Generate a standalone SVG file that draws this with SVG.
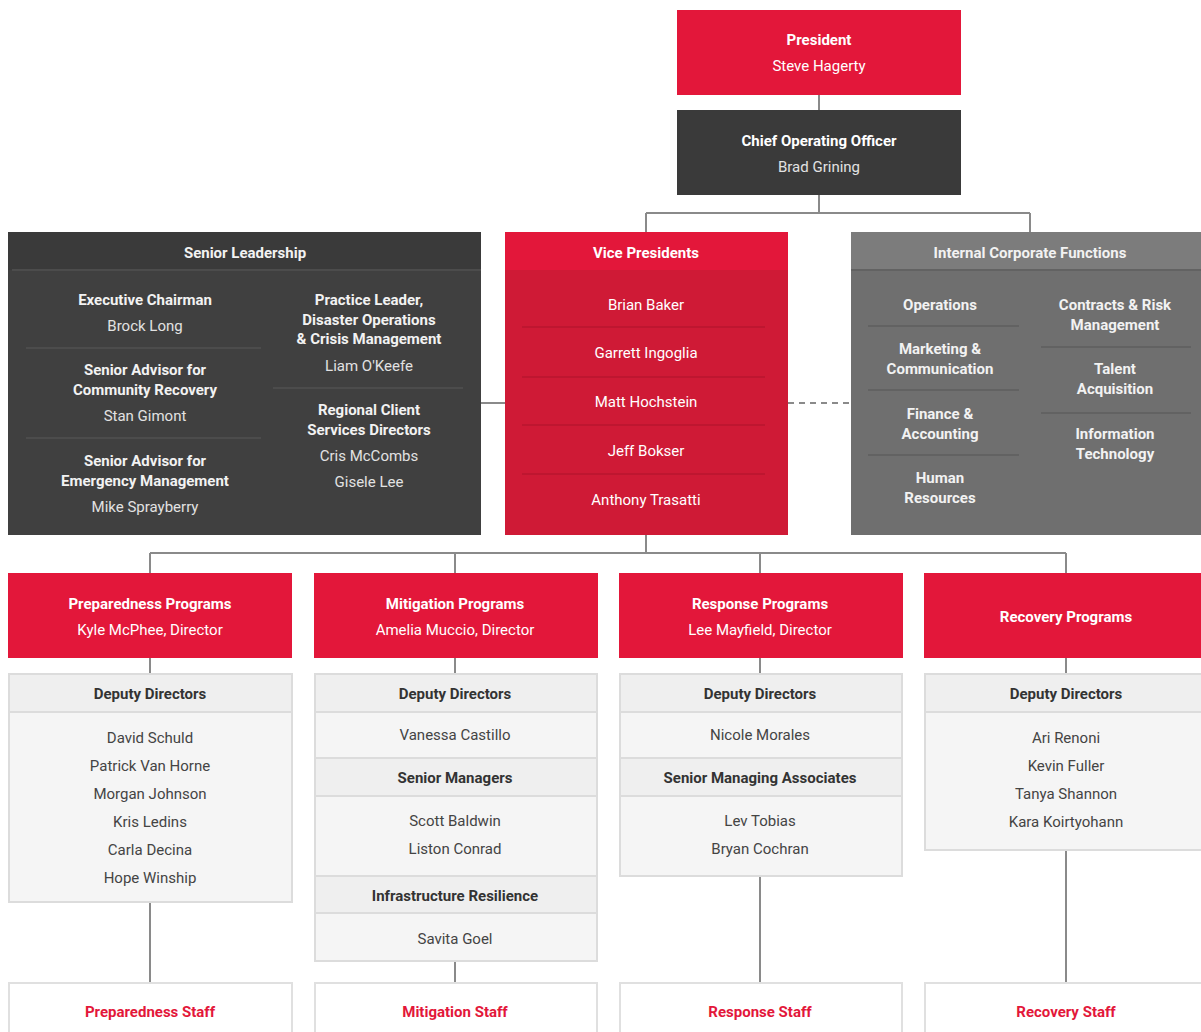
<svg xmlns="http://www.w3.org/2000/svg" width="1201" height="1032" viewBox="0 0 1201 1032">
<style>
text{font-family:Roboto,"Liberation Sans",sans-serif;font-size:15px;text-anchor:middle}
.b{font-weight:bold}
.w{fill:#ffffff}
.lw{fill:#f2f2f2}
.lg{fill:#e2e2e2}
.dk{fill:#333333}
.dn{fill:#444444}
.rt{fill:#e3173a;font-weight:bold}
.red{fill:#e3173a}
.vpb{fill:#cf1a36}
.dark{fill:#3a3a3a}
.slb{fill:#404040}
.icf{fill:#6f6f6f}
.icfh{fill:#7c7c7c}
.dep{fill:#f5f5f5;stroke:#dcdcdc;stroke-width:2}
.deph{fill:#efefef;stroke:#dcdcdc;stroke-width:2}
.staff{fill:#ffffff;stroke:#e0e0e0;stroke-width:2}
.conn{fill:none;stroke:#8a8a8a;stroke-width:2}
.dash{fill:none;stroke:#8a8a8a;stroke-width:2;stroke-dasharray:6 5}
.dvs{stroke:#4c4c4c;stroke-width:2}
.dvv{stroke:#b9162f;stroke-width:1.5}
.dvi{stroke:#626262;stroke-width:2}
</style>
<g id="connectors">
<path class="conn" d="M819 95V110"/>
<path class="conn" d="M819 195V213M646 213H1030M646 213V232M1030 213V232"/>
<path class="conn" d="M481 403H505"/>
<path class="dash" d="M788 403H851"/>
<path class="conn" d="M646 535V553M150 553H1066M150 553V573M455 553V573M760 553V573M1066 553V573"/>
<path class="conn" d="M150 658V674M455 658V674M760 658V674M1066 658V674"/>
<path class="conn" d="M150 902V983M455 961V983M760 876V983M1066 850V983"/>
</g>
<g id="president">
<rect class="red" x="677" y="10" width="284" height="85"/>
<text class="w b" x="819" y="45">President</text>
<text class="w" x="819" y="71">Steve Hagerty</text>
</g>
<g id="coo">
<rect class="dark" x="677" y="110" width="284" height="85"/>
<text class="w b" x="819" y="146">Chief Operating Officer</text>
<text class="lg" x="819" y="172">Brad Grining</text>
</g>
<g id="senior-leadership">
<rect class="slb" x="8" y="232" width="473" height="303"/>
<rect class="dark" x="8" y="232" width="473" height="38"/>
<line class="dvs" x1="12" y1="270" x2="481" y2="270"/>
<text class="lw b" x="245" y="258">Senior Leadership</text>
<text class="lw b" x="145" y="305">Executive Chairman</text>
<text class="lg" x="145" y="331">Brock Long</text>
<line class="dvs" x1="26" y1="348" x2="261" y2="348"/>
<text class="lw b" x="145" y="375">Senior Advisor for</text>
<text class="lw b" x="145" y="395">Community Recovery</text>
<text class="lg" x="145" y="421">Stan Gimont</text>
<line class="dvs" x1="26" y1="438" x2="261" y2="438"/>
<text class="lw b" x="145" y="466">Senior Advisor for</text>
<text class="lw b" x="145" y="486">Emergency Management</text>
<text class="lg" x="145" y="512">Mike Sprayberry</text>
<text class="lw b" x="369" y="305">Practice Leader,</text>
<text class="lw b" x="369" y="325">Disaster Operations</text>
<text class="lw b" x="369" y="344">&amp; Crisis Management</text>
<text class="lg" x="369" y="371">Liam O'Keefe</text>
<line class="dvs" x1="273" y1="388" x2="463" y2="388"/>
<text class="lw b" x="369" y="415">Regional Client</text>
<text class="lw b" x="369" y="435">Services Directors</text>
<text class="lg" x="369" y="461">Cris McCombs</text>
<text class="lg" x="369" y="487">Gisele Lee</text>
</g>
<g id="vice-presidents">
<rect class="vpb" x="505" y="232" width="283" height="303"/>
<rect class="red" x="505" y="232" width="283" height="38"/>
<text class="w b" x="646" y="258">Vice Presidents</text>
<text class="w" x="646" y="310">Brian Baker</text>
<line class="dvv" x1="522" y1="327" x2="765" y2="327"/>
<text class="w" x="646" y="358">Garrett Ingoglia</text>
<line class="dvv" x1="522" y1="377" x2="765" y2="377"/>
<text class="w" x="646" y="407">Matt Hochstein</text>
<line class="dvv" x1="522" y1="425" x2="765" y2="425"/>
<text class="w" x="646" y="456">Jeff Bokser</text>
<line class="dvv" x1="522" y1="474" x2="765" y2="474"/>
<text class="w" x="646" y="505">Anthony Trasatti</text>
</g>
<g id="internal-corporate-functions">
<rect class="icf" x="851" y="232" width="352" height="303"/>
<rect class="icfh" x="851" y="232" width="352" height="38"/>
<line class="dvi" x1="851" y1="270" x2="1201" y2="270"/>
<text class="lw b" x="1030" y="258">Internal Corporate Functions</text>
<text class="lw b" x="940" y="310">Operations</text>
<line class="dvi" x1="868" y1="326" x2="1019" y2="326"/>
<text class="lw b" x="940" y="354">Marketing &amp;</text>
<text class="lw b" x="940" y="374">Communication</text>
<line class="dvi" x1="868" y1="390" x2="1019" y2="390"/>
<text class="lw b" x="940" y="419">Finance &amp;</text>
<text class="lw b" x="940" y="439">Accounting</text>
<line class="dvi" x1="868" y1="455" x2="1019" y2="455"/>
<text class="lw b" x="940" y="483">Human</text>
<text class="lw b" x="940" y="503">Resources</text>
<text class="lw b" x="1115" y="310">Contracts &amp; Risk</text>
<text class="lw b" x="1115" y="330">Management</text>
<line class="dvi" x1="1041" y1="347" x2="1191" y2="347"/>
<text class="lw b" x="1115" y="374">Talent</text>
<text class="lw b" x="1115" y="394">Acquisition</text>
<line class="dvi" x1="1041" y1="413" x2="1191" y2="413"/>
<text class="lw b" x="1115" y="439">Information</text>
<text class="lw b" x="1115" y="459">Technology</text>
</g>
<g id="preparedness-programs">
<rect class="red" x="8" y="573" width="284" height="85"/>
<text class="w b" x="150" y="609">Preparedness Programs</text>
<text class="w" x="150" y="635">Kyle McPhee, Director</text>
</g>
<g id="mitigation-programs">
<rect class="red" x="314" y="573" width="284" height="85"/>
<text class="w b" x="455" y="609">Mitigation Programs</text>
<text class="w" x="455" y="635">Amelia Muccio, Director</text>
</g>
<g id="response-programs">
<rect class="red" x="619" y="573" width="284" height="85"/>
<text class="w b" x="760" y="609">Response Programs</text>
<text class="w" x="760" y="635">Lee Mayfield, Director</text>
</g>
<g id="recovery-programs">
<rect class="red" x="924" y="573" width="280" height="85"/>
<text class="w b" x="1066" y="622">Recovery Programs</text>
</g>
<g id="preparedness-deputies">
<rect class="dep" x="9" y="674" width="283" height="228"/>
<rect class="deph" x="9" y="674" width="283" height="38"/>
<text class="dk b" x="150" y="699">Deputy Directors</text>
<text class="dn" x="150" y="743">David Schuld</text>
<text class="dn" x="150" y="771">Patrick Van Horne</text>
<text class="dn" x="150" y="799">Morgan Johnson</text>
<text class="dn" x="150" y="827">Kris Ledins</text>
<text class="dn" x="150" y="855">Carla Decina</text>
<text class="dn" x="150" y="883">Hope Winship</text>
</g>
<g id="mitigation-deputies">
<rect class="dep" x="315" y="674" width="282" height="287"/>
<rect class="deph" x="315" y="674" width="282" height="38"/>
<text class="dk b" x="455" y="699">Deputy Directors</text>
<text class="dn" x="455" y="740">Vanessa Castillo</text>
<rect class="deph" x="315" y="758" width="282" height="38"/>
<text class="dk b" x="455" y="783">Senior Managers</text>
<text class="dn" x="455" y="826">Scott Baldwin</text>
<text class="dn" x="455" y="854">Liston Conrad</text>
<rect class="deph" x="315" y="876" width="282" height="37"/>
<text class="dk b" x="455" y="901">Infrastructure Resilience</text>
<text class="dn" x="455" y="944">Savita Goel</text>
</g>
<g id="response-deputies">
<rect class="dep" x="620" y="674" width="282" height="202"/>
<rect class="deph" x="620" y="674" width="282" height="38"/>
<text class="dk b" x="760" y="699">Deputy Directors</text>
<text class="dn" x="760" y="740">Nicole Morales</text>
<rect class="deph" x="620" y="758" width="282" height="38"/>
<text class="dk b" x="760" y="783">Senior Managing Associates</text>
<text class="dn" x="760" y="826">Lev Tobias</text>
<text class="dn" x="760" y="854">Bryan Cochran</text>
</g>
<g id="recovery-deputies">
<rect class="dep" x="925" y="674" width="280" height="176"/>
<rect class="deph" x="925" y="674" width="280" height="38"/>
<text class="dk b" x="1066" y="699">Deputy Directors</text>
<text class="dn" x="1066" y="743">Ari Renoni</text>
<text class="dn" x="1066" y="771">Kevin Fuller</text>
<text class="dn" x="1066" y="799">Tanya Shannon</text>
<text class="dn" x="1066" y="827">Kara Koirtyohann</text>
</g>
<g id="preparedness-staff">
<rect class="staff" x="9" y="983" width="283" height="60"/>
<text class="rt" x="150" y="1017">Preparedness Staff</text>
</g>
<g id="mitigation-staff">
<rect class="staff" x="315" y="983" width="282" height="60"/>
<text class="rt" x="455" y="1017">Mitigation Staff</text>
</g>
<g id="response-staff">
<rect class="staff" x="620" y="983" width="282" height="60"/>
<text class="rt" x="760" y="1017">Response Staff</text>
</g>
<g id="recovery-staff">
<rect class="staff" x="925" y="983" width="280" height="60"/>
<text class="rt" x="1066" y="1017">Recovery Staff</text>
</g>
</svg>
